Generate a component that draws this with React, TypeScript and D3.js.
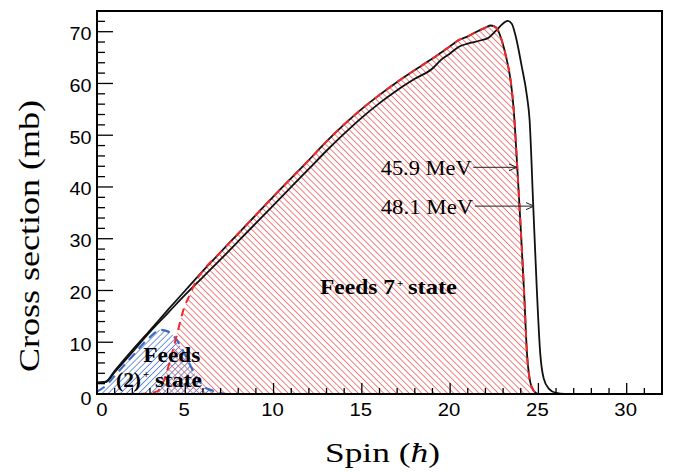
import React from 'react';
import * as d3 from 'd3';

// ---------- data ----------
const total481Spin = [0, 0.5, 1, 2, 3, 4, 5, 6, 7, 8, 9, 10, 11, 12, 13, 14, 15, 16, 17, 18, 19, 19.5, 20, 20.5, 21, 21.7, 22.2, 22.6, 23, 23.25, 23.5, 23.7, 24.05, 24.35, 24.5, 24.7, 24.9, 25.1, 25.3, 25.6, 26, 26.5, 28, 30, 31.6];
const total481XS = [2.2, 2.3, 4.2, 8.1, 12, 15.6, 19.2, 22.6, 26, 29.5, 33, 36.5, 40, 43.5, 47, 50.3, 53.4, 56.2, 58.7, 60.9, 62.9, 64.6, 65.8, 67.1, 67.7, 68.3, 68.9, 70.2, 71.6, 72.1, 71.5, 69.3, 63.4, 57.6, 53, 37, 21, 8, 3, 1, 0.2, 0, 0, 0, 0];

const total459Spin = [0, 0.5, 1, 2, 3, 4, 5, 6, 7, 8, 9, 10, 11, 12, 13, 14, 15, 16, 17, 18, 19, 19.5, 20, 20.5, 21, 21.5, 22, 22.3, 22.6, 22.9, 23.2, 23.45, 23.6, 23.8, 24.0, 24.2, 24.35, 24.5, 24.7, 25.0, 26, 28, 30, 31.6];
const total459XS = [2.2, 2.4, 4.5, 8.5, 12.3, 16.2, 20, 23.8, 27.4, 31, 34.6, 38.2, 41.7, 45.2, 48.8, 52.1, 55.1, 57.8, 60.3, 62.6, 64.8, 66, 67.2, 68.4, 69.1, 70, 70.8, 71.2, 70.8, 68.6, 64.7, 60, 55, 44, 32, 19, 8, 3, 0.8, 0, 0, 0, 0, 0];

const feed7Spin = [0, 1, 2, 2.8, 3.4, 3.8, 4.15, 4.5, 4.9, 5.3, 5.6, 6, 7, 8, 9, 10, 11, 12, 13, 14, 15, 16, 17, 18, 19, 19.5, 20, 20.5, 21, 21.5, 22, 22.3, 22.6, 22.9, 23.2, 23.45, 23.6, 23.8, 24.0, 24.2, 24.35, 24.5, 24.7, 25.0, 26, 28, 29.8];
const feed7XS = [0, 0, 0, 0.1, 0.5, 2.7, 6.6, 11.1, 16.3, 19.5, 21.8, 23.8, 27.4, 31, 34.6, 38.2, 41.7, 45.2, 48.8, 52.1, 55.1, 57.8, 60.3, 62.6, 64.8, 66, 67.2, 68.4, 69.1, 70, 70.8, 71.2, 70.8, 68.6, 64.7, 60, 55, 44, 32, 19, 8, 3, 0.8, 0, 0, 0, 0];

const feed2Spin = [0, 0.5, 1, 2, 3, 3.6, 4, 4.5, 5, 5.5, 6, 6.5, 7, 7.5, 10, 15, 20, 25, 26.3];
const feed2XS = [0.5, 1.6, 3.5, 7.3, 11, 12.4, 12.1, 10.5, 7.5, 4.1, 1.6, 0.7, 0.2, 0, 0, 0, 0, 0, 0];

const xTickValues = [0, 5, 10, 15, 20, 25, 30];
const yTickValues = [0, 10, 20, 30, 40, 50, 60, 70];
const xDomain = [0, 32];
const yDomain = [0, 74];

const arrowLabels = ['45.9 MeV', '48.1 MeV'];
const arrowTipSpin = [23.77, 24.75];
const arrowTipXS = [43.8, 36.3];

type Pt = [number, number];
const zip = (a: number[], b: number[]): Pt[] => a.map((v, i) => [v, b[i]]);

export default function App() {
  const W = 683, H = 472;
  const m = { left: 97, right: 21, top: 11, bottom: 78 };
  const x = d3.scaleLinear().domain(xDomain).range([m.left, W - m.right]);
  const y = d3.scaleLinear().domain(yDomain).range([H - m.bottom, m.top]);

  const line = d3.line<Pt>().x(d => x(d[0])).y(d => y(d[1])).curve(d3.curveMonotoneX);
  const area = d3.area<Pt>().x(d => x(d[0])).y0(y(0)).y1(d => y(d[1])).curve(d3.curveMonotoneX);

  const t481 = zip(total481Spin, total481XS);
  const t459 = zip(total459Spin, total459XS);
  const f7 = zip(feed7Spin, feed7XS);
  const f2 = zip(feed2Spin, feed2XS);

  const xMinor = d3.range(xDomain[0], xDomain[1] + 0.001, 1);
  const yMinor = d3.range(yDomain[0], yDomain[1] + 0.001, 2);

  const serif = '"Liberation Serif", "Times New Roman", serif';
  const sans = '"Liberation Sans", Arial, sans-serif';

  return (
    <svg width={W} height={H} style={{ position: 'absolute', left: 0, top: 0, background: '#fff' }}>
      <defs>
        <clipPath id="plot">
          <rect x={m.left} y={m.top} width={W - m.left - m.right} height={H - m.top - m.bottom} />
        </clipPath>
        <pattern id="hatchRed" patternUnits="userSpaceOnUse" width={4.5} height={10} patternTransform="rotate(-45)">
          <line x1={2.25} y1={0} x2={2.25} y2={10} stroke="#ef6b6b" strokeWidth={0.9} />
        </pattern>
        <pattern id="hatchBlue" patternUnits="userSpaceOnUse" width={4.3} height={10} patternTransform="rotate(45)">
          <line x1={2.15} y1={0} x2={2.15} y2={10} stroke="#5f86d6" strokeWidth={0.9} />
        </pattern>
        <marker id="arr" markerUnits="userSpaceOnUse" markerWidth={12} markerHeight={10} refX={8} refY={4} orient="auto">
          <path d="M0,0.5 L8,4 L0,7.5" fill="none" stroke="#222" strokeWidth={1} />
        </marker>
      </defs>

      <g clipPath="url(#plot)">
        <path d={area(f7) || ''} fill="url(#hatchRed)" />
        <path d={area(f2) || ''} fill="url(#hatchBlue)" />
        <path d={line(t481) || ''} fill="none" stroke="#111" strokeWidth={1.8} />
        <path d={line(t459) || ''} fill="none" stroke="#111" strokeWidth={1.8} />
        <path d={line(f2) || ''} fill="none" stroke="#3b6cc9" strokeWidth={2.2} strokeDasharray="9 6" />
        <path d={line(f7) || ''} fill="none" stroke="#ee2a2a" strokeWidth={2} strokeDasharray="8 6" />
      </g>

      {/* ticks */}
      {xMinor.map(v => {
        const major = xTickValues.includes(v);
        return <line key={'xt' + v} x1={x(v)} x2={x(v)} y1={y(0)} y2={y(0) - (major ? 11 : 6)} stroke="#000" strokeWidth={1.3} />;
      })}
      {yMinor.map(v => {
        const major = yTickValues.includes(v);
        return <line key={'yt' + v} x1={x(0)} x2={x(0) + (major ? 16 : 8)} y1={y(v)} y2={y(v)} stroke="#000" strokeWidth={1.3} />;
      })}

      <rect x={m.left} y={m.top} width={W - m.left - m.right} height={H - m.top - m.bottom} fill="none" stroke="#000" strokeWidth={2} />

      {/* tick labels */}
      {xTickValues.map(v => (
        <text key={'xl' + v} x={x(v) + (v === 0 ? 5 : -1)} y={416} textAnchor="middle" fontFamily={sans} fontSize={18}
          textLength={String(v).length * 11.3} lengthAdjust="spacingAndGlyphs">{v}</text>
      ))}
      {yTickValues.map(v => (
        <text key={'yl' + v} x={91.5} y={y(v) + (v === 0 ? 10.5 : 8.5)} textAnchor="end" fontFamily={sans} fontSize={18}
          textLength={String(v).length * 11.0} lengthAdjust="spacingAndGlyphs">{v}</text>
      ))}

      {/* axis titles */}
      <text x={325} y={462} fontFamily={serif} fontSize={28} textLength={115} lengthAdjust="spacingAndGlyphs">
        Spin (<tspan fontStyle="italic">ħ</tspan>)
      </text>
      <text transform="translate(39,236) rotate(-90)" textAnchor="middle" fontFamily={serif} fontSize={30}
        textLength={272} lengthAdjust="spacingAndGlyphs">Cross section (mb)</text>

      {/* annotations */}
      {arrowLabels.map((lab, i) => {
        const ty = y(arrowTipXS[i]);
        const tx = x(arrowTipSpin[i]);
        const textEnd = i === 0 ? 471.7 : 473.3;
        return (
          <g key={lab}>
            <text x={380.7} y={ty + 7.5} fontFamily={serif} fontSize={20} textLength={textEnd - 380.7} lengthAdjust="spacingAndGlyphs">{lab}</text>
            <line x1={textEnd + 1.5} x2={tx} y1={ty} y2={ty} stroke="#222" strokeWidth={1} markerEnd="url(#arr)" />
          </g>
        );
      })}

      <text x={320} y={294} fontFamily={serif} fontWeight="bold" fontSize={21} textLength={75} lengthAdjust="spacingAndGlyphs">Feeds 7</text>
      <text x={397} y={287} fontFamily={serif} fontWeight="bold" fontSize={11}>+</text>
      <text x={408} y={294} fontFamily={serif} fontWeight="bold" fontSize={21} textLength={49} lengthAdjust="spacingAndGlyphs">state</text>

      <text x={143.3} y={361.7} fontFamily={serif} fontWeight="bold" fontSize={21} textLength={57} lengthAdjust="spacingAndGlyphs">Feeds</text>
      <text x={116} y={386.7} fontFamily={serif} fontWeight="bold" fontSize={21} textLength={25} lengthAdjust="spacingAndGlyphs">(2)</text>
      <text x={143} y={378} fontFamily={serif} fontWeight="bold" fontSize={11}>+</text>
      <text x={155} y={386.7} fontFamily={serif} fontWeight="bold" fontSize={21} textLength={47} lengthAdjust="spacingAndGlyphs">state</text>
    </svg>
  );
}
